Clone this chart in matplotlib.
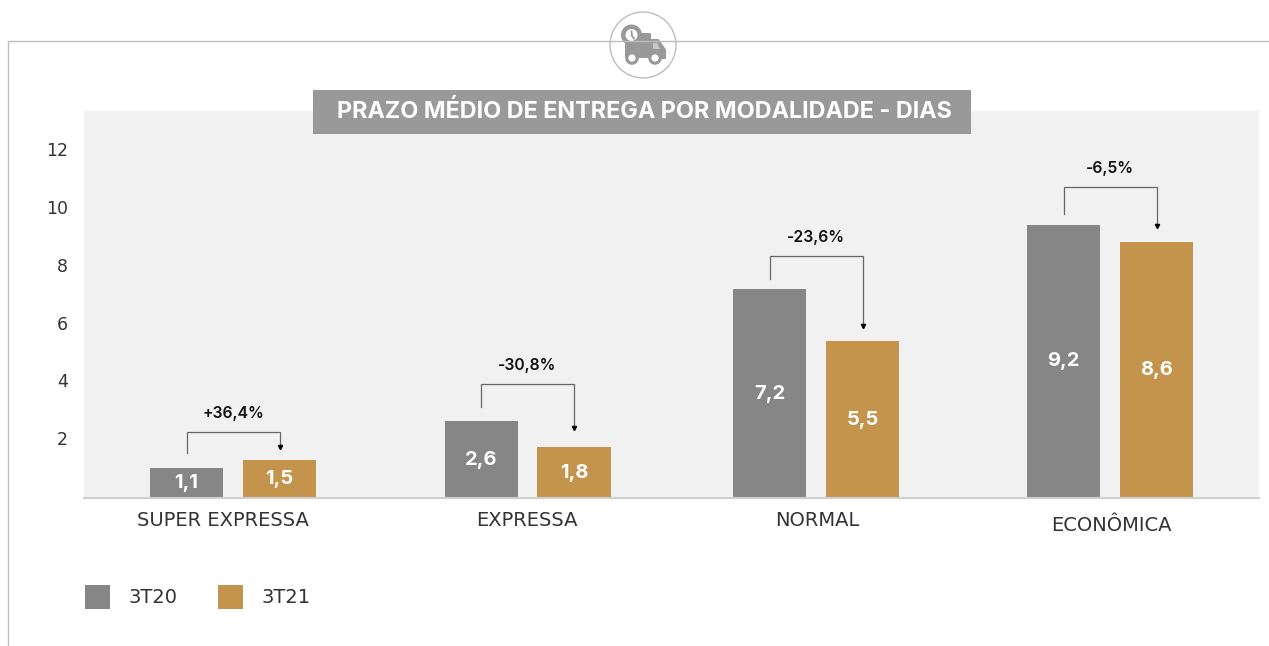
import numpy as np
import matplotlib
matplotlib.use("Agg")
import matplotlib.pyplot as plt
from matplotlib.patches import Circle, Rectangle, FancyBboxPatch, Polygon
from matplotlib.transforms import ScaledTranslation

# Inter for the bold texts, DejaVu is closer in width for the regular ones
plt.rcParams['font.family'] = ['DejaVu Sans']
BOLD_FONT = ['Inter', 'DejaVu Sans']

categories = ['SUPER EXPRESSA', 'EXPRESSA', 'NORMAL', 'ECONÔMICA']
series_names = ['3T20', '3T21']
# bar heights as drawn in the picture (they differ a bit from the printed labels)
heights_3t20 = [1.04, 2.66, 7.23, 9.45]
heights_3t21 = [1.31, 1.76, 5.43, 8.86]
labels_3t20 = ['1,1', '2,6', '7,2', '9,2']
labels_3t21 = ['1,5', '1,8', '5,5', '8,6']
changes = ['+36,4%', '-30,8%', '-23,6%', '-6,5%']
yticks = [2, 4, 6, 8, 10, 12]

# layout
group_pos = np.array([0, 1.0075, 1.9945, 3.0004])
label_pos = [-0.034, 1.006, 2.0, 3.004]
bracket_top = [2.28, 3.95, 8.37, 10.76]
bracket_from = [1.56, 3.15, 7.58, 9.83]
bracket_to = [1.70, 2.35, 5.88, 9.34]
bar_w = 0.25
off = 0.159

GREY = '#868686'
GOLD = '#C4944C'
TEXT = '#333333'
W, H = 1269, 646

fig = plt.figure(figsize=(W / 100, H / 100), dpi=100)
ax = fig.add_axes([84 / W, 1 - 498 / H, (1259 - 84) / W, (498 - 111) / H])
ax.set_facecolor('#F1F1F1')
ax.set_xlim(-0.51, 3.51)
ax.set_ylim(0, 13.39)

b1 = ax.bar(group_pos - off, heights_3t20, bar_w, color=GREY, label=series_names[0])
b2 = ax.bar(group_pos + off, heights_3t21, bar_w, color=GOLD, label=series_names[1])
down = ScaledTranslation(0, -4 / 100, fig.dpi_scale_trans)
for bars, labs in [(b1, labels_3t20), (b2, labels_3t21)]:
    for t in ax.bar_label(bars, labels=labs, label_type='center', color='white',
                          fontsize=14.5, fontweight='bold', family=BOLD_FONT):
        t.set_transform(t.get_transform() + down)

# brackets with the change between the quarters
for i in range(len(categories)):
    x1 = group_pos[i] - off
    x2 = group_pos[i] + off
    ax.plot([x1, x1, x2, x2], [bracket_from[i], bracket_top[i], bracket_top[i], bracket_to[i] + 0.15],
            color='#666666', lw=0.9, solid_joinstyle='miter')
    ax.plot([x2], [bracket_to[i] + 0.08], marker='v', ms=3, color='black')
    ax.text(group_pos[i], bracket_top[i] + 0.65, changes[i], ha='center', va='center',
            fontsize=11.3, fontweight='semibold', color='#111111', family=BOLD_FONT)

ax.set_yticks(yticks)
ax.set_xticks(label_pos)
ax.set_xticklabels(categories)
ax.tick_params(axis='y', length=0, labelsize=12.5, labelcolor=TEXT, pad=11.5)
ax.tick_params(axis='x', length=0, labelsize=14, labelcolor=TEXT, pad=9)
ax.xaxis.get_major_ticks()[3].set_pad(13)
for lab in ax.get_yticklabels():
    lab.set_transform(lab.get_transform() + ScaledTranslation(0, 2 / 100, fig.dpi_scale_trans))
for name, spine in ax.spines.items():
    spine.set_visible(name == 'bottom')
ax.spines['bottom'].set_color('#CFCFCF')
ax.spines['bottom'].set_linewidth(1.5)

fig.legend(handles=[b1, b2], labels=series_names, loc='upper left',
           bbox_to_anchor=(67.5 / W, 1 - 567 / H), ncol=2, frameon=False,
           fontsize=14, labelcolor=TEXT, handlelength=1.29, handleheight=1.6,
           handletextpad=0.93, columnspacing=2.1, borderpad=0.4)

# frame, title box and truck icon, in pixel coordinates
over = fig.add_axes([0, 0, 1, 1], zorder=5)
over.set_xlim(0, W)
over.set_ylim(H, 0)
over.axis('off')
over.plot([8, 8, W], [H, 41, 41], color='#BDBDBD', lw=1.0, solid_joinstyle='miter')
over.add_patch(Rectangle((313, 90), 658, 44, color='#999999', lw=0))
over.text(644, 111, 'PRAZO MÉDIO DE ENTREGA POR MODALIDADE - DIAS', ha='center', va='center',
          color='white', fontsize=16.8, fontweight='bold', family=BOLD_FONT)

ICON = '#999999'
over.add_patch(Circle((643, 45), 33, fc='white', ec='#BDBDBD', lw=1.0))
over.add_patch(FancyBboxPatch((625, 33), 26, 25, boxstyle='round,pad=0,rounding_size=1.5', fc=ICON, ec='none'))
over.add_patch(Polygon([(651, 40), (658, 40), (665, 50), (665, 58), (651, 58)], fc=ICON, ec=ICON,
                       lw=1.5, joinstyle='round'))
over.add_patch(Polygon([(653, 43), (657, 43), (660, 49), (653, 49)], fc='#C9C9C9', ec='none'))
over.add_patch(Circle((631.5, 35), 10.5, fc=ICON, ec='none'))
over.add_patch(Circle((631.5, 35), 6, fc='white', ec='none'))
over.plot([631.5, 632, 634], [31.5, 36, 38.5], color=ICON, lw=1.3)
for wx in [632, 655]:
    over.add_patch(Circle((wx, 58), 6.8, fc=ICON, ec='none'))
    over.add_patch(Circle((wx, 58), 3.6, fc='white', ec='none'))

fig.savefig('out.png', dpi=100)
